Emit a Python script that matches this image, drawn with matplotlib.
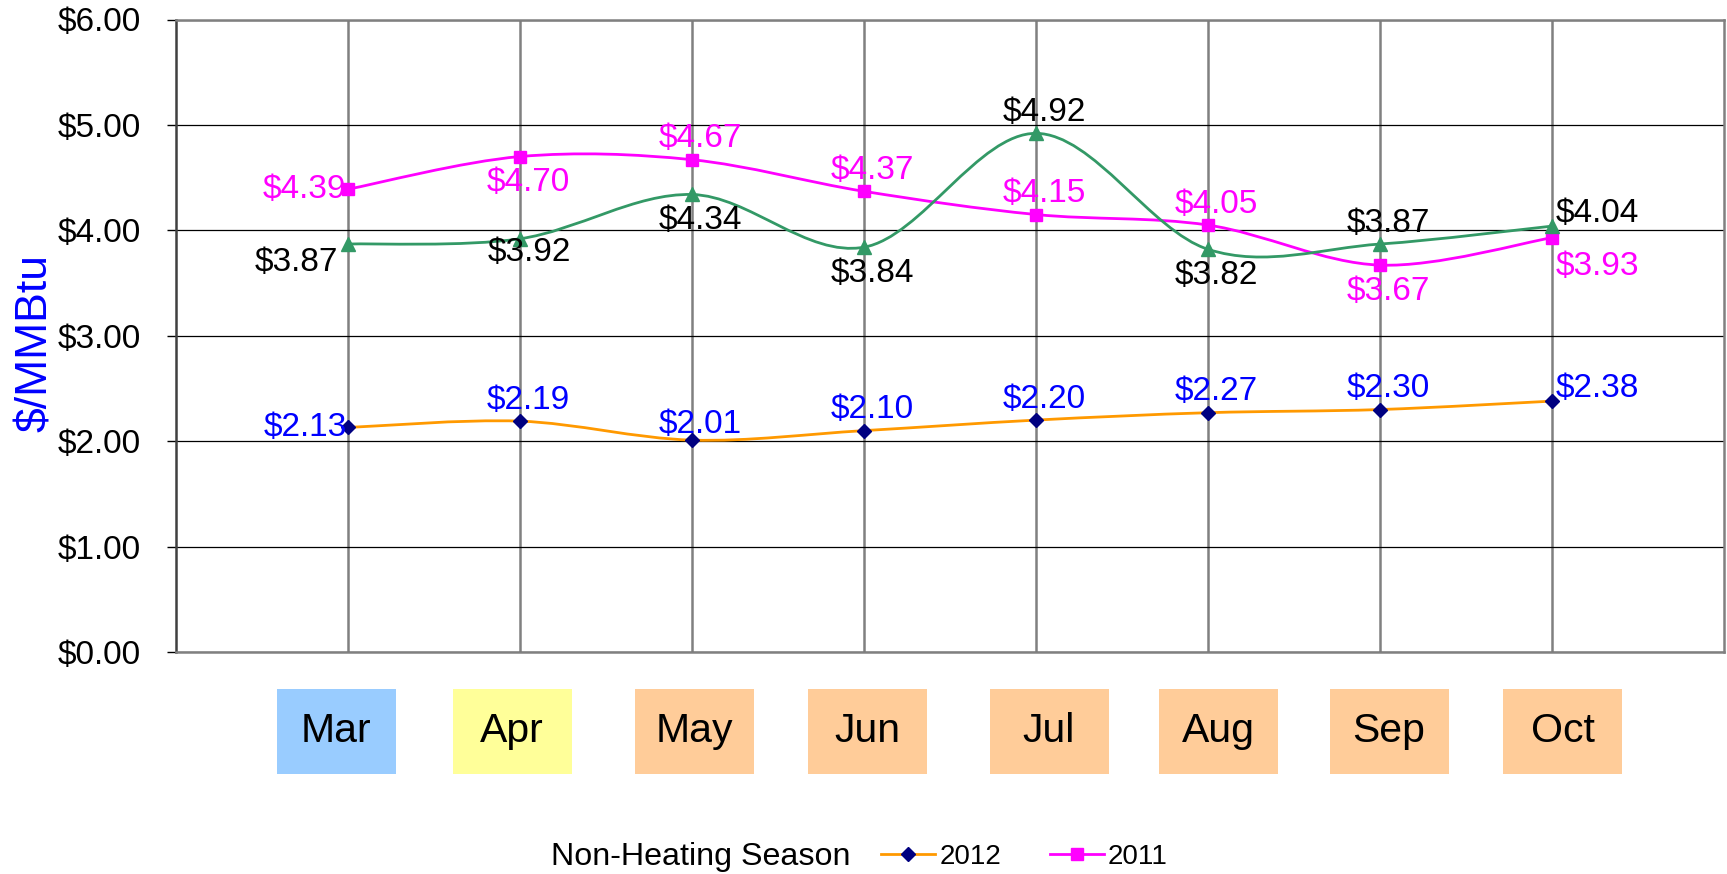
import matplotlib
matplotlib.use("Agg")
import matplotlib.pyplot as plt
from matplotlib.path import Path
from matplotlib.patches import PathPatch, Rectangle
from matplotlib.lines import Line2D
import matplotlib.transforms as mtransforms

plt.rcParams['font.family'] = ['Liberation Sans', 'DejaVu Sans']

# ---------------- data ----------------
months = ["Mar", "Apr", "May", "Jun", "Jul", "Aug", "Sep", "Oct"]
month_colors = ["#99CCFF", "#FFFF99", "#FFCC99", "#FFCC99", "#FFCC99", "#FFCC99", "#FFCC99", "#FFCC99"]
prices_2012 = [2.13, 2.19, 2.01, 2.10, 2.20, 2.27, 2.30, 2.38]
prices_2011 = [4.39, 4.70, 4.67, 4.37, 4.15, 4.05, 3.67, 3.93]
prices_other = [3.87, 3.92, 4.34, 3.84, 4.92, 3.82, 3.87, 4.04]
y_ticks = [0, 1, 2, 3, 4, 5, 6]
season_label = "Non-Heating Season"

# ---------------- layout ----------------
pos_2012 = ['left', 'above', 'above_low', 'above', 'above', 'above', 'above', 'right-above']
pos_2011 = ['left', 'below', 'above', 'above', 'above', 'above', 'below', 'right-below']
pos_other = ['left-below', 'below_low', 'below', 'below', 'above', 'below', 'above', 'right-above']
offsets = {
    'above': ((6, 15), 'center'),
    'above_low': ((6, 11), 'center'),
    'below': ((6, -19), 'center'),
    'below_low': ((7, -10), 'center'),
    'left': ((-1, 0), 'right'),
    'left-below': ((-7, -13), 'right'),
    'right-above': ((3, 9), 'left'),
    'right-below': ((3, -21), 'left'),
}
box_shift_px = [-12, -8, 2, 3, 13, 10, 9, 11]

W, H = 1727, 874
fig = plt.figure(figsize=(W / 100, H / 100), dpi=100)
L, R, T, B = 176, 1724, 19.5, 652
ax = fig.add_axes([L / W, 1 - B / H, (R - L) / W, (B - T) / H])

x = list(range(len(months)))
ax.set_xlim(-1, 8)
ax.set_ylim(0, 6)
ax.set_yticks(y_ticks)
ax.set_yticklabels([f"${v:.2f}" for v in y_ticks], fontsize=24)
ax.set_xticks(x)
ax.set_xticklabels([])
ax.tick_params(axis='x', length=0)
ax.tick_params(axis='y', length=6.5, width=1, color='black', pad=19)
ax.set_axisbelow(True)
ax.grid(axis='x', color='#808080', lw=1.8)
ax.grid(axis='y', color='black', lw=0.9)
for s in ['top', 'right', 'bottom']:
    ax.spines[s].set_color('#808080')
    ax.spines[s].set_linewidth(1.8)
ax.spines['left'].set_color('#404040')
ax.spines['left'].set_linewidth(1.8)

ax.set_ylabel("$/MMBtu", color='#0000FF', fontsize=32)
ax.yaxis.set_label_coords(-(L - 56) / (R - L), 0.488)


def smooth_path(xs, ys):
    n = len(xs)
    pts = list(zip(xs, ys))
    verts = [pts[0]]
    codes = [Path.MOVETO]
    for i in range(n - 1):
        p0 = pts[i - 1] if i > 0 else pts[i]
        p1 = pts[i]
        p2 = pts[i + 1]
        p3 = pts[i + 2] if i + 2 < n else pts[i + 1]
        c1 = (p1[0] + (p2[0] - p0[0]) / 6, p1[1] + (p2[1] - p0[1]) / 6)
        c2 = (p2[0] - (p3[0] - p1[0]) / 6, p2[1] - (p3[1] - p1[1]) / 6)
        verts += [c1, c2, p2]
        codes += [Path.CURVE4] * 3
    return Path(verts, codes)


series = [
    (prices_2012, '#FF9900', '#000080', 'D', 7, '#0000FF', pos_2012),
    (prices_2011, '#FF00FF', '#FF00FF', 's', 9, '#FF00FF', pos_2011),
    (prices_other, '#339966', '#339966', '^', 10.5, 'black', pos_other),
]
for z, (vals, lc, mc, mk, ms, tc, poss) in enumerate(series):
    patch = PathPatch(smooth_path(x, vals), facecolor='none', edgecolor=lc, lw=2.0,
                      transform=ax.transData, zorder=3 + z)
    ax.add_patch(patch)
    ax.plot(x, vals, linestyle='none', marker=mk, markersize=ms, color=mc, zorder=3.5 + z)
    for xi, v, p in zip(x, vals, poss):
        (dx, dy), ha = offsets[p]
        ax.annotate(f"${v:.2f}", (xi, v), xytext=(dx, dy), textcoords='offset points',
                    ha=ha, va='center', fontsize=24, color=tc, zorder=10)

# month boxes below the axis
trans = mtransforms.blended_transform_factory(ax.transData, ax.transAxes)
unit_px = (R - L) / 9.0
box_w = 119 / unit_px
box_bottom = (B - 774) / (B - T)
box_h = (774 - 689) / (B - T)
for xi, m, c, sh in zip(x, months, month_colors, box_shift_px):
    cx = xi + sh / unit_px
    ax.add_patch(Rectangle((cx - box_w / 2, box_bottom), box_w, box_h, transform=trans,
                           facecolor=c, edgecolor='none', clip_on=False))
    ax.text(cx, box_bottom + box_h / 2, m, transform=trans, ha='center', va='center',
            fontsize=29.5, color='black')

# legend
ly = 1 - 857 / H
fig.text(551 / W, ly, season_label, ha='left', va='center', fontsize=23.2)
handles = [
    Line2D([], [], color='#FF9900', lw=2.0, marker='D', markersize=7,
           markerfacecolor='#000080', markeredgecolor='#000080'),
    Line2D([], [], color='#FF00FF', lw=2.0, marker='s', markersize=9),
]
fig.legend(handles, ["2012", "2011"], loc='center left', bbox_to_anchor=(881 / W, ly),
           ncol=2, frameon=False, fontsize=20, handlelength=1.95, handletextpad=0.15,
           columnspacing=1.75, borderpad=0, borderaxespad=0)

fig.savefig("out.png", dpi=100)
